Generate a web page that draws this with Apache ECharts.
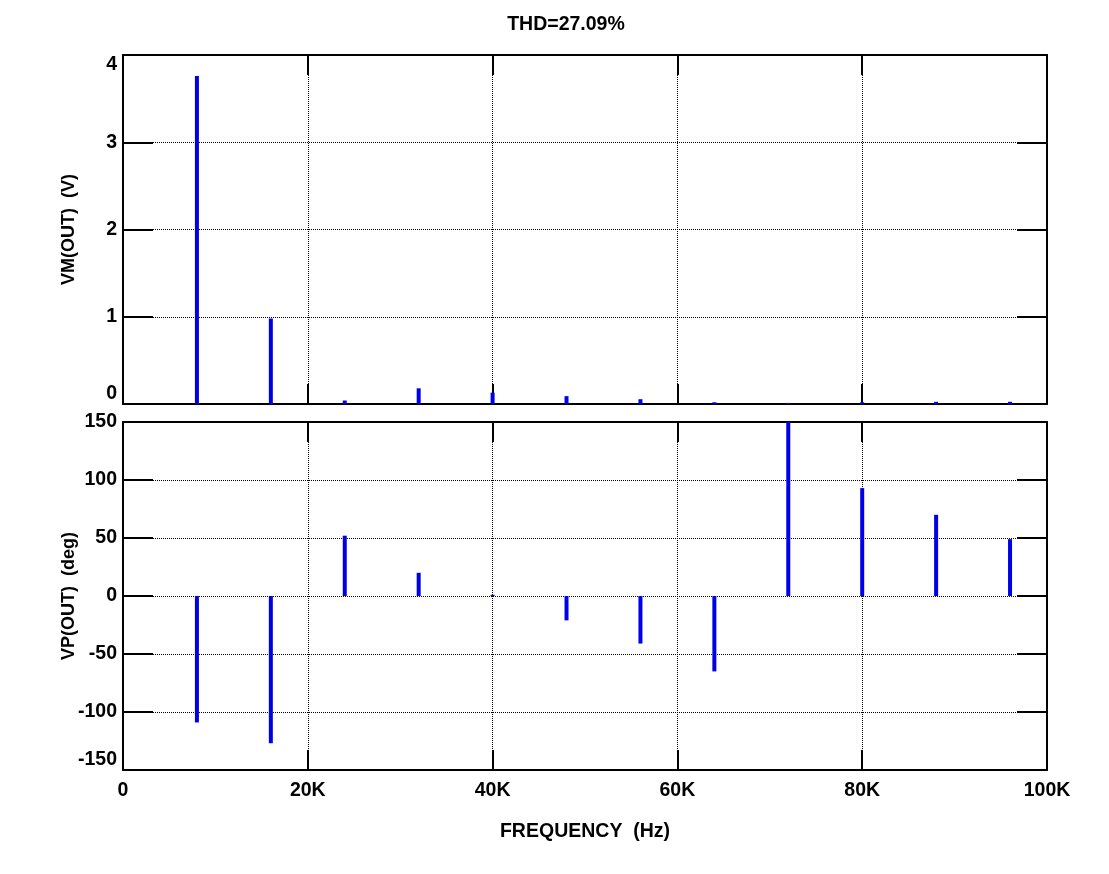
<!DOCTYPE html>
<html>
<head>
<meta charset="utf-8">
<script src="https://cdn.jsdelivr.net/npm/echarts@6/dist/echarts.min.js"></script>
<style>html,body{margin:0;padding:0;background:#fff}#c{width:1109px;height:874px}</style>
</head>
<body>
<div id="c"></div>
<script>
const freqs = [8000, 16000, 24000, 32000, 40000, 48000, 56000, 64000, 72000, 80000, 88000, 96000];
const magnitudes = [3.76, 0.98, 0.04, 0.18, 0.13, 0.09, 0.055, 0.02, 0.012, 0.02, 0.025, 0.025];
const phases = [-109, -127, 52, 20, 1, -21, -41, -65, 150, 93, 70, 49];
const xTickLabels = ['0', '20K', '40K', '60K', '80K', '100K'];
const magTickLabels = ['0', '1', '2', '3', '4'];
const phaseTickLabels = ['-150', '-100', '-50', '0', '50', '100', '150'];

const FONT = 'Liberation Sans';
const lbl = {fontFamily: FONT, fontWeight: 'bold', fontSize: 19.5, color: '#000'};
const nameLbl = {fontFamily: FONT, fontWeight: 'bold', fontSize: 18, color: '#000'};
const blk = '#000';

function xAx(grid, pos, showLabels) {
  return {
    type: 'value', gridIndex: grid, position: pos, min: 0, max: 100000, interval: 20000,
    axisLine: {show: true, onZero: false, lineStyle: {color: blk, width: 2}},
    axisTick: {show: true, inside: true, length: 20, lineStyle: {color: blk, width: 2}},
    splitLine: {show: pos === 'bottom', lineStyle: {color: blk, type: 'dotted', width: 1}},
    axisLabel: Object.assign({show: showLabels, margin: 11, formatter: (v, i) => xTickLabels[i]}, lbl),
    name: showLabels ? 'FREQUENCY  (Hz)' : '',
    nameLocation: 'middle', nameGap: 52, nameMoveOverlap: false,
    nameTextStyle: Object.assign({}, lbl)
  };
}
function yAx(grid, pos, min, max, interval, labels, name, maxAlign) {
  const left = pos === 'left';
  return {
    type: 'value', gridIndex: grid, position: pos, min: min, max: max, interval: interval,
    axisLine: {show: true, onZero: false, lineStyle: {color: blk, width: 2}},
    axisTick: {show: true, inside: true, length: 30, lineStyle: {color: blk, width: 2}},
    splitLine: {show: left, lineStyle: {color: blk, type: 'dotted', width: 1}},
    axisLabel: Object.assign({show: left, margin: 6, formatter: (v, i) => labels[i],
      verticalAlignMinLabel: 'bottom', verticalAlignMaxLabel: maxAlign}, lbl),
    name: left ? name : '',
    nameLocation: 'middle', nameGap: 45, nameMoveOverlap: false,
    nameTextStyle: Object.assign({}, nameLbl)
  };
}

const chart = echarts.init(document.getElementById('c'), null, {renderer: 'canvas'});
chart.setOption({
  animation: false,
  backgroundColor: '#fff',
  grid: [
    {left: 123, top: 55, width: 924, height: 349},
    {left: 123, top: 422, width: 924, height: 348}
  ],
  graphic: [{
    type: 'text', x: 566, y: 25,
    style: {text: 'THD=27.09%', fontFamily: FONT, fontWeight: 'bold', fontSize: 19.5, fill: '#000',
            align: 'center', verticalAlign: 'middle'}
  }],
  xAxis: [xAx(0, 'bottom', false), xAx(0, 'top', false), xAx(1, 'bottom', true), xAx(1, 'top', false)],
  yAxis: [
    yAx(0, 'left', 0, 4, 1, magTickLabels, 'VM(OUT)  (V)', 'top'),
    yAx(0, 'right', 0, 4, 1, magTickLabels, '', 'top'),
    yAx(1, 'left', -150, 150, 50, phaseTickLabels, 'VP(OUT)  (deg)', 'middle'),
    yAx(1, 'right', -150, 150, 50, phaseTickLabels, '', 'middle')
  ],
  series: [
    {type: 'bar', xAxisIndex: 0, yAxisIndex: 0, barWidth: 4, itemStyle: {color: '#0000e6'},
     data: freqs.map((f, i) => [f, magnitudes[i]])},
    {type: 'bar', xAxisIndex: 2, yAxisIndex: 2, barWidth: 4, itemStyle: {color: '#0000e6'},
     data: freqs.map((f, i) => [f, phases[i]])}
  ]
});
</script>
</body>
</html>
